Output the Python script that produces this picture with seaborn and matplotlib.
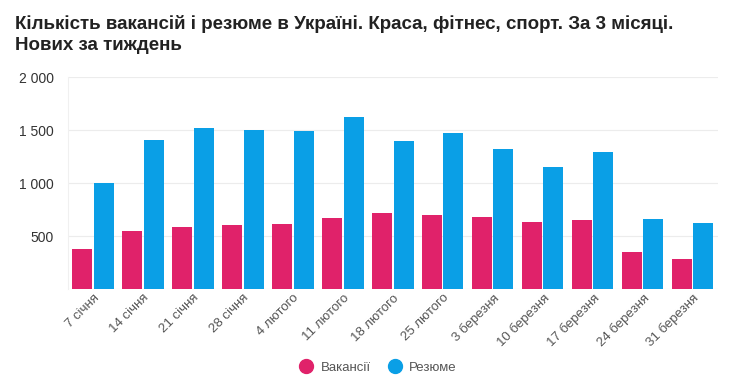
import pandas as pd
import seaborn as sns
import matplotlib.pyplot as plt
from matplotlib import ticker

weeks = ["7 січня", "14 січня", "21 січня", "28 січня", "4 лютого", "11 лютого",
         "18 лютого", "25 лютого", "3 березня", "10 березня", "17 березня",
         "24 березня", "31 березня"]
vacancies = [380, 547, 590, 607, 619, 670, 720, 698, 685, 635, 657, 352, 286]
resumes = [1005, 1408, 1525, 1503, 1490, 1625, 1402, 1475, 1321, 1154, 1299, 660, 625]
series_names = ["Вакансії", "Резюме"]
colors = ["#e0226a", "#0a9fe6"]

df = pd.DataFrame({
    "week": weeks * 2,
    "series": [series_names[0]] * len(weeks) + [series_names[1]] * len(weeks),
    "value": vacancies + resumes,
})

sns.set_theme(style="white")
plt.rcParams['font.family'] = ['Liberation Sans', 'DejaVu Sans']

fig = plt.figure(figsize=(7.5, 3.85), dpi=100)
ax = fig.add_axes([0.0907, 0.2486, 0.866, 0.5506])

sns.barplot(data=df, x="week", y="value", hue="series", palette=colors,
            saturation=1, width=0.86, gap=0.07, ax=ax, legend=False,
            linewidth=0)

ax.set_ylim(0, 2000)
ax.set_xlim(-0.5, len(weeks) - 0.5)
ax.set_yticks([500, 1000, 1500, 2000])
ax.yaxis.set_major_formatter(ticker.FuncFormatter(
    lambda v, pos: f"{int(v):,}".replace(",", " ")))
ax.grid(axis="y", color="#ececec", linewidth=0.8)
ax.set_axisbelow(True)
for side in ["top", "right", "bottom"]:
    ax.spines[side].set_visible(False)
ax.spines["left"].set_color("#f0f0f0")
ax.spines["left"].set_linewidth(0.8)
ax.axhline(0, color="#e6e6e6", linewidth=0.8, zorder=0)

ax.set_xlabel("")
ax.set_ylabel("")
ax.tick_params(axis="y", length=0, labelsize=10, labelcolor="#333333", pad=10)
ax.tick_params(axis="x", length=0, labelsize=9.5, labelcolor="#555555", pad=2)
plt.setp(ax.get_xticklabels(), rotation=45, ha="right", rotation_mode="anchor")

fig.text(0.02, 0.96, "Кількість вакансій і резюме в Україні. Краса, фітнес, спорт. За 3 місяці.\nНових за тиждень",
         ha="left", va="top", fontsize=13.5, fontweight="bold", color="#222222",
         linespacing=1.25)

handles = [plt.Line2D([], [], marker="o", linestyle="", markersize=10,
                      markerfacecolor=c, markeredgecolor=c) for c in colors]
fig.legend(handles, series_names, loc="center", bbox_to_anchor=(0.5, 0.045),
           ncol=2, frameon=False, fontsize=9.5, labelcolor="#555555",
           handletextpad=0.1, columnspacing=0.8)

fig.savefig("out.png", dpi=100)
